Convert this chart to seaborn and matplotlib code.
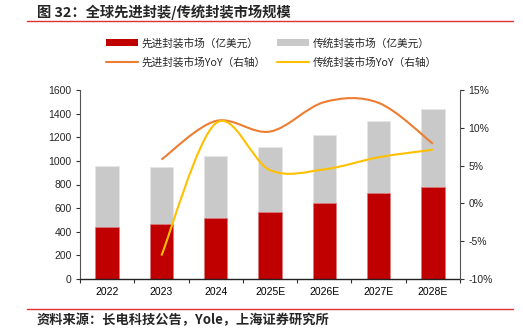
import numpy as np
import pandas as pd
import matplotlib
matplotlib.use("Agg")
import matplotlib.pyplot as plt
from matplotlib.path import Path
from matplotlib.patches import PathPatch
from matplotlib.lines import Line2D
from matplotlib.patches import Patch
import seaborn as sns

categories = ["2022", "2023", "2024", "2025E", "2026E", "2027E", "2028E"]
advanced = [440, 466, 517, 565, 641, 726, 782]
total = [957, 946, 1045, 1121, 1220, 1338, 1437]
yoy_cats = ["2023", "2024", "2025E", "2026E", "2027E", "2028E"]
adv_yoy = [5.8, 10.9, 9.5, 13.4, 13.3, 7.9]
trad_yoy = [-6.9, 10.6, 4.4, 4.5, 6.1, 7.1]

sns.set_theme(style="white")
plt.rcParams["font.family"] = ["Liberation Sans", "Noto Sans CJK SC", "DejaVu Sans"]

RED = "#C00000"
GRAY = "#C9C9C9"
ORANGE = "#ED7D31"
YELLOW = "#FFC000"

fig = plt.figure(figsize=(5.23, 3.32), dpi=100)
W, H = 523, 332
ax = fig.add_axes([80 / W, 1 - 279 / H, 380 / W, 189 / H])

df = pd.DataFrame({"cat": categories, "adv": advanced, "total": total})
sns.barplot(data=df, x="cat", y="total", color=GRAY, width=0.43, ax=ax,
            saturation=1, edgecolor="#e6e6e6", linewidth=0.5)
sns.barplot(data=df, x="cat", y="adv", color=RED, width=0.43, ax=ax,
            saturation=1, edgecolor="#e08080", linewidth=0.5)
ax.set_xlim(-0.5, 6.5)
ax.set_ylim(0, 1600)
ax.set_yticks(np.arange(0, 1601, 200))
ax.set_xlabel("")
ax.set_ylabel("")
ax.set_xticks(np.arange(-0.5, 7, 1), minor=True)
ax.tick_params(axis="x", which="major", length=0, labelsize=7.5, pad=6, colors="#000000")
ax.tick_params(axis="x", which="minor", length=3, width=0.8, color="#333333", direction="out", bottom=True)
ax.tick_params(axis="y", length=3, width=0.8, color="#333333", direction="out", labelsize=7.5, left=True, pad=3)
for s in ["top", "right"]:
    ax.spines[s].set_visible(False)
ax.spines["left"].set_color("#555555")
ax.spines["left"].set_linewidth(0.8)
ax.spines["bottom"].set_color("#222222")
ax.spines["bottom"].set_linewidth(1.0)

ax2 = ax.twinx()
ax2.set_ylim(-10, 15)
ax2.set_yticks(np.arange(-10, 16, 5))
ax2.set_yticklabels([f"{v}%" for v in range(-10, 16, 5)])
ax2.tick_params(axis="y", length=3, width=0.8, color="#333333", direction="out", labelsize=7.5, right=True, pad=3)
for s in ["top", "left", "bottom"]:
    ax2.spines[s].set_visible(False)
ax2.spines["right"].set_color("#555555")
ax2.spines["right"].set_linewidth(0.8)
ax2.grid(False)
ax.grid(False)

def smooth_path(xs, ys, t=1 / 6):
    pts = list(zip(xs, ys))
    verts = [pts[0]]
    codes = [Path.MOVETO]
    n = len(pts)
    for i in range(n - 1):
        p0 = pts[i - 1] if i > 0 else pts[i]
        p1 = pts[i]
        p2 = pts[i + 1]
        p3 = pts[i + 2] if i + 2 < n else pts[i + 1]
        c1 = (p1[0] + (p2[0] - p0[0]) * t, p1[1] + (p2[1] - p0[1]) * t)
        c2 = (p2[0] - (p3[0] - p1[0]) * t, p2[1] - (p3[1] - p1[1]) * t)
        verts += [c1, c2, p2]
        codes += [Path.CURVE4] * 3
    return Path(verts, codes)

xpos = [categories.index(c) for c in yoy_cats]
ax2.add_patch(PathPatch(smooth_path(xpos, adv_yoy), fill=False, edgecolor=ORANGE, lw=1.5, capstyle="butt"))
ax2.add_patch(PathPatch(smooth_path(xpos, trad_yoy), fill=False, edgecolor=YELLOW, lw=1.5, capstyle="butt"))

# Title
fig.text(37 / W, 1 - 12 / H, "图 32：全球先进封装/传统封装市场规模", fontsize=10.3, fontweight="bold",
         va="center", ha="left", family=["Noto Sans CJK SC", "DejaVu Sans"])
fig.add_artist(Line2D([27 / W, 513 / W], [1 - 20.5 / H, 1 - 20.5 / H], color="#E03030", lw=1.0))

# Legend (row 1: bars, row 2: lines)
handles = [Patch(facecolor=RED, edgecolor="none"), Line2D([], [], color=ORANGE, lw=1.5),
           Patch(facecolor=GRAY, edgecolor="none"), Line2D([], [], color=YELLOW, lw=1.5)]
labels = ["先进封装市场（亿美元）", "先进封装市场YoY（右轴）", "传统封装市场（亿美元）", "传统封装市场YoY（右轴）"]
leg = fig.legend(handles, labels, ncol=2, loc="center left", bbox_to_anchor=(96 / W, 1 - 52.5 / H),
                 frameon=False, prop={"family": ["Noto Sans CJK SC", "DejaVu Sans"], "size": 7.7},
                 handlelength=3.0, handleheight=0.6, columnspacing=1.0, labelspacing=0.75, handletextpad=0.4)

# Footer
fig.add_artist(Line2D([27 / W, 513 / W], [1 - 309 / H, 1 - 309 / H], color="#E03030", lw=1.0))
fig.text(37 / W, 1 - 320 / H, "资料来源：长电科技公告，Yole，上海证券研究所", fontsize=9.5, fontweight="bold",
         style="italic", va="center", ha="left", family=["Noto Sans CJK SC", "DejaVu Sans"])

fig.savefig("out.png", dpi=100)
